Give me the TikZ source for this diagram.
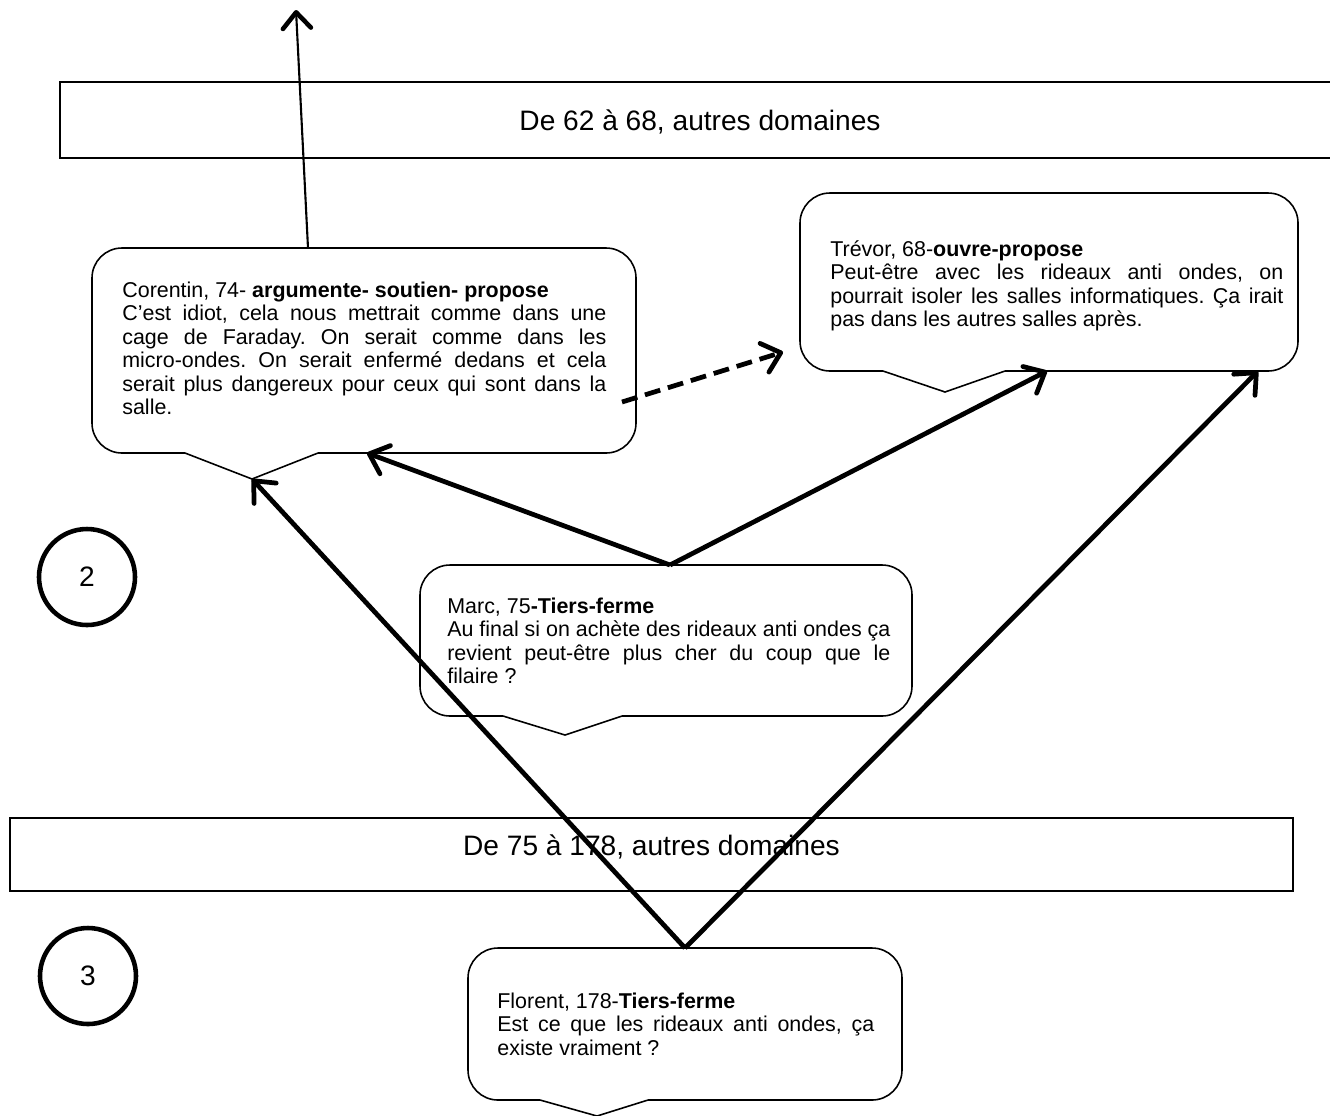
\documentclass[tikz,border=0pt]{standalone}
\usepackage{fontspec}
\setmainfont{Liberation Sans}
\usetikzlibrary{arrows.meta}
\tikzset{
  bulle/.style={anchor=base west, inner sep=0pt, align=justify,
    font=\fontsize{12.2}{13.4}\selectfont\frenchspacing},
  contour/.style={line width=0.9pt},
  cadre/.style={draw, line width=0.9pt, text height=5mm,
    font=\fontsize{16}{19}\selectfont},
  rond/.style={draw, circle, line width=2.6pt, minimum size=19.2mm,
    font=\fontsize{16}{19}\selectfont},
  fleche/.style={line width=2.7pt, -{Straight Barb[round,length=3.4mm,width=6mm]}}
}
\begin{document}
\begin{tikzpicture}[x=0.2mm, y=-0.2mm]
\useasboundingbox (0,0) rectangle (1330,1115);
% bandeaux
\node[cadre, minimum width=256mm, minimum height=15.2mm, text depth=1mm] (dom1) at (700,120) {De 62 à 68, autres domaines};
\node[cadre, minimum width=256.6mm, minimum height=14.6mm, text depth=4.6mm] (dom2) at (651.5,854.5) {De 75 à 178, autres domaines};
% numeros
\node[rond] (n2) at (87,577) {2};
\node[rond] (n3) at (88,976) {3};
% Corentin
\node[bulle, text width=96.8mm] (cor) at (122,297) {Corentin, 74- \textbf{argumente- soutien- propose}\\
C’est idiot, cela nous mettrait comme dans une\linebreak cage de Faraday. On serait comme dans les\linebreak
micro-ondes. On serait enfermé dedans et cela\linebreak serait plus dangereux pour ceux qui sont dans la\linebreak salle.};
\draw[contour, rounded corners=6mm] (318,453) -- (636,453) -- (636,248) -- (92,248) -- (92,453) -- (185,453);
\draw[contour] (185,453) -- (252,479) coordinate (corP) -- (318,453);
\coordinate (corH) at (308,248);
\coordinate (corB) at (367,453);
\coordinate (corD) at (622,402);
\coordinate (haut) at (296,10);
% Trevor
\node[bulle, text width=90.6mm] (trv) at (830,256) {Trévor, 68-\textbf{ouvre-propose}\\
Peut-être avec les rideaux anti ondes, on\linebreak pourrait isoler les salles informatiques. Ça irait\linebreak pas dans les autres salles après.};
\draw[contour, rounded corners=6mm] (1005,371) -- (1298,371) -- (1298,193) -- (800,193) -- (800,371) -- (883,371);
\draw[contour] (883,371) -- (945,392) -- (1005,371);
\coordinate (trvG) at (783,352);
\coordinate (trvA) at (1047,371);
\coordinate (trvB) at (1258,371);
% Marc
\node[bulle, text width=88.6mm] (marc) at (447,613) {Marc, 75\textbf{-Tiers-ferme}\\
Au final si on achète des rideaux anti ondes ça\linebreak revient peut-être plus cher du coup que le\linebreak filaire~?};
\draw[contour, rounded corners=6mm] (622,716) -- (912,716) -- (912,565) -- (420,565) -- (420,716) -- (503,716);
\draw[contour] (503,716) -- (565,735) -- (622,716);
\coordinate (marcH) at (670,565);
% Florent
\node[bulle, text width=75.4mm] (flor) at (497,1008) {Florent, 178-\textbf{Tiers-ferme}\\
Est ce que les rideaux anti ondes, ça\linebreak existe vraiment~?};
\draw[contour, rounded corners=6mm] (648,1100) -- (902,1100) -- (902,948) -- (468,948) -- (468,1100) -- (540,1100);
\draw[contour] (540,1100) -- (597,1116) -- (648,1100);
\coordinate (florH) at (685,948);
% fleches
\draw[line width=1.2pt, -{Straight Barb[round,line width=2.6pt,length=3.2mm,width=5.6mm]}] (corH) -- (haut);
\draw[fleche, dash pattern=on 3.2mm off 1.6mm] (corD) -- (trvG);
\draw[fleche] (marcH) -- (corB);
\draw[fleche] (marcH) -- (trvA);
\draw[fleche] (florH) -- (corP);
\draw[fleche] (florH) -- (trvB);
\end{tikzpicture}
\end{document}
